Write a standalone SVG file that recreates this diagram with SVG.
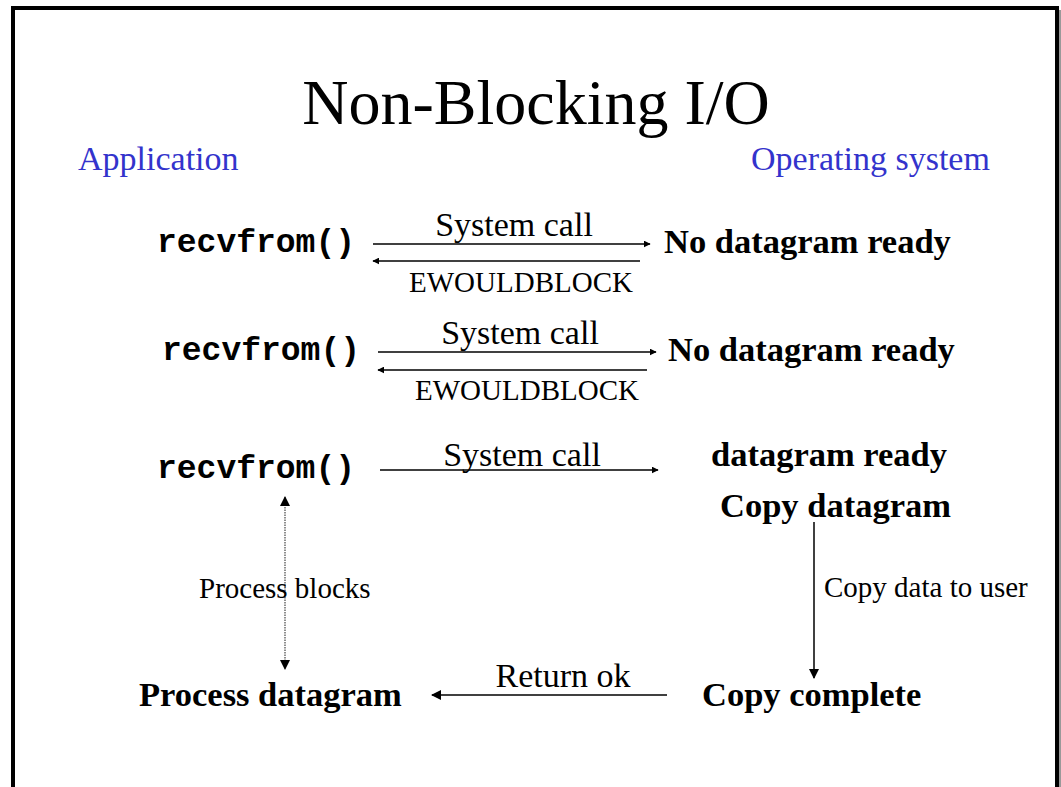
<svg xmlns="http://www.w3.org/2000/svg" width="1061" height="787" viewBox="0 0 1061 787">
  <style>
    .title { font-family: "Liberation Serif", "Times New Roman", serif; font-size: 64px; fill: #000; }
    .side { font-family: "Liberation Serif", "Times New Roman", serif; font-size: 34px; fill: #3333cc; }
    .code { font-family: "Liberation Mono", "Courier New", monospace; font-weight: bold; font-size: 33px; fill: #000; }
    .state { font-family: "Liberation Serif", "Times New Roman", serif; font-weight: bold; font-size: 34.5px; fill: #000; }
    .lbl { font-family: "Liberation Serif", "Times New Roman", serif; font-size: 34px; fill: #000; }
    .small { font-family: "Liberation Serif", "Times New Roman", serif; font-size: 29px; fill: #000; }
    .arrow { stroke: #000; stroke-width: 1.5; fill: none; }
    .dotted { stroke: #444; stroke-width: 1.2; stroke-dasharray: 1.5 1; fill: none; }
  </style>
  <defs>
    <marker id="head" viewBox="0 0 10 10" refX="9" refY="5" markerWidth="7" markerHeight="7" markerUnits="userSpaceOnUse" orient="auto-start-reverse">
      <path d="M0,0 L10,5 L0,10 Z" fill="#000"/>
    </marker>
    <marker id="head-big" viewBox="0 0 10 10" refX="9" refY="5" markerWidth="10" markerHeight="10" markerUnits="userSpaceOnUse" orient="auto-start-reverse">
      <path d="M0,0 L10,5 L0,10 Z" fill="#000"/>
    </marker>
  </defs>

  <!-- slide background and frame -->
  <rect x="0" y="0" width="1061" height="787" fill="#fff"/>
  <line x1="1060" y1="10" x2="1060" y2="787" stroke="#999" stroke-width="2"/>
  <rect x="13" y="8" width="1044" height="800" fill="none" stroke="#000" stroke-width="4"/>

  <text class="title" x="536" y="124" text-anchor="middle">Non-Blocking I/O</text>
  <text class="side" x="78" y="170">Application</text>
  <text class="side" x="751" y="170">Operating system</text>

  <!-- application side -->
  <g id="call1"><text class="code" x="157" y="252">recvfrom()</text></g>
  <g id="call2"><text class="code" x="162" y="360">recvfrom()</text></g>
  <g id="call3"><text class="code" x="157" y="478">recvfrom()</text></g>
  <g id="process-datagram"><text class="state" x="139" y="706">Process datagram</text></g>

  <!-- kernel side -->
  <g id="not-ready1"><text class="state" x="664" y="253">No datagram ready</text></g>
  <g id="not-ready2"><text class="state" x="668" y="361">No datagram ready</text></g>
  <g id="ready"><text class="state" x="711" y="466">datagram ready</text></g>
  <g id="copy"><text class="state" x="720" y="517">Copy datagram</text></g>
  <g id="copy-complete"><text class="state" x="702" y="706">Copy complete</text></g>

  <!-- connectors -->
  <g id="connectors">
    <line class="arrow" x1="373" y1="244" x2="650" y2="244" marker-end="url(#head)"/>
    <line class="arrow" x1="640" y1="261" x2="373" y2="261" marker-end="url(#head)"/>
    <text class="lbl" x="514" y="236" text-anchor="middle">System call</text>
    <text class="small" x="521" y="292" text-anchor="middle">EWOULDBLOCK</text>

    <line class="arrow" x1="378" y1="352" x2="656" y2="352" marker-end="url(#head)"/>
    <line class="arrow" x1="647" y1="370" x2="378" y2="370" marker-end="url(#head)"/>
    <text class="lbl" x="520" y="344" text-anchor="middle">System call</text>
    <text class="small" x="527" y="400" text-anchor="middle">EWOULDBLOCK</text>

    <line class="arrow" x1="380" y1="470" x2="658" y2="470" marker-end="url(#head)"/>
    <text class="lbl" x="522" y="466" text-anchor="middle">System call</text>

    <line class="dotted" x1="285" y1="497" x2="285" y2="669" marker-start="url(#head-big)" marker-end="url(#head-big)"/>
    <text class="small" x="199" y="598">Process blocks</text>

    <line class="arrow" x1="814" y1="522" x2="814" y2="678" marker-end="url(#head-big)"/>
    <text class="small" x="824" y="597">Copy data to user</text>

    <line class="arrow" x1="667" y1="695" x2="432" y2="695" marker-end="url(#head-big)"/>
    <text class="lbl" x="563" y="687" text-anchor="middle">Return ok</text>
  </g>
</svg>
